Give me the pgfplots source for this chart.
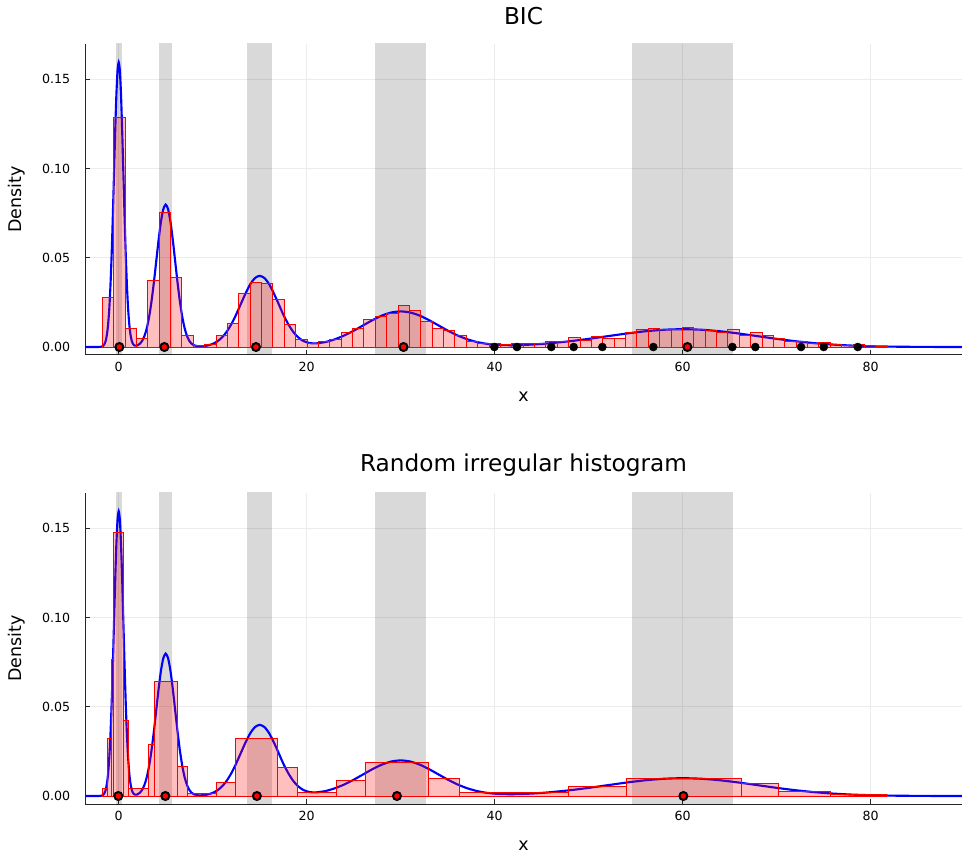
\documentclass[border=0pt]{standalone}
\usepackage{fontspec}
\setmainfont{DejaVu Sans}
\usepackage{pgfplots}
\usepackage{pgfplotstable}
\pgfplotsset{compat=1.18}

\pgfplotstableread{
x y
-3.6 0
-2.5 0.0000006
-2 0.0000535
-1.875 0.000142
-1.75 0.000349
-1.625 0.000811
-1.5 0.001771
-1.375 0.003638
-1.25 0.007006
-1.125 0.012703
-1 0.021591
-0.875 0.034517
-0.75 0.051816
-0.625 0.073056
-0.5 0.096786
-0.375 0.120451
-0.25 0.140829
-0.125 0.154665
0 0.15958
0.125 0.154665
0.25 0.140829
0.375 0.120451
0.5 0.096786
0.625 0.073056
0.75 0.051817
0.875 0.034518
1 0.021618
1.125 0.012747
1.25 0.007077
1.375 0.00375
1.5 0.001946
1.625 0.001079
1.75 0.000754
1.875 0.000746
2 0.00094
2.25 0.001825
2.5 0.003503
2.75 0.006351
3 0.010796
3.25 0.017259
3.5 0.025908
3.75 0.036528
4 0.048394
4.25 0.060226
4.5 0.070415
4.75 0.077333
5 0.07979
5.25 0.077333
5.5 0.070415
5.75 0.060226
6 0.048394
6.25 0.036528
6.5 0.025908
6.75 0.017259
7 0.01081
7.25 0.00637
7.5 0.003539
7.75 0.00187
8 0.000973
8.5 0.000378
9 0.00047
9.5 0.000909
10 0.001751
10.5 0.003175
11 0.005397
11.5 0.008628
12 0.012952
12.5 0.018262
13 0.024193
13.5 0.030109
14 0.03521
14.5 0.038661
15 0.03989
15.5 0.038661
16 0.035247
16.5 0.030109
17 0.024294
17.5 0.018262
18 0.013173
18.5 0.008948
19 0.005852
19.5 0.003812
20 0.002627
20.5 0.002098
21 0.002031
22 0.002786
23 0.004328
24 0.006477
25 0.009132
26 0.012098
27 0.015056
28 0.017606
29 0.019337
30 0.019956
31 0.019346
32 0.017625
33 0.015089
34 0.012149
35 0.009208
36 0.006588
37 0.004475
38 0.002926
39 0.001906
40 0.001314
41 0.001049
42 0.001015
43 0.001144
44 0.001394
45 0.001738
46 0.002164
48 0.003239
50 0.004566
52 0.006049
54 0.007528
56 0.008802
58 0.009667
60 0.009974
62 0.009667
64 0.008802
66 0.007528
68 0.006049
70 0.004566
72 0.003239
74 0.002157
76 0.00135
78 0.000794
80 0.000438
82 0.000227
84 0.000111
86 0.0000507
88 0.0000218
90 0.0000089
}\curvetab

\pgfplotstableread{
x y
-1.74 0.0276
-0.53 0.1285
0.68 0.0103
1.89 0.0047
3.10 0.0371
4.31 0.0754
5.52 0.0390
6.73 0.0062
7.94 0.0010
9.15 0.0017
10.36 0.0062
11.57 0.0132
12.78 0.0300
13.99 0.0360
15.20 0.0354
16.41 0.0265
17.62 0.0126
18.83 0.0043
20.04 0.0022
21.25 0.0030
22.46 0.0041
23.67 0.0080
24.88 0.0104
26.09 0.0154
27.30 0.0171
28.51 0.0190
29.72 0.0232
30.93 0.0203
32.14 0.0143
33.35 0.0102
34.56 0.0094
35.77 0.0062
36.98 0.0030
38.19 0.0020
39.40 0.0019
40.61 0.0017
41.82 0.0020
43.03 0.0019
44.24 0.0022
45.45 0.0032
46.66 0.0030
47.87 0.0052
49.08 0.0039
50.29 0.0060
51.50 0.0049
52.71 0.0050
53.92 0.0084
55.13 0.0097
56.34 0.0104
57.55 0.0100
58.76 0.0100
59.97 0.0108
61.18 0.0101
62.39 0.0093
63.60 0.0082
64.81 0.0101
66.02 0.0065
67.23 0.0082
68.44 0.0062
69.65 0.0047
70.86 0.0030
72.07 0.0032
73.28 0.0020
74.49 0.0026
75.70 0.0015
76.91 0.0010
78.12 0.0015
79.33 0.0006
80.54 0.0004
81.75 0.0004
}\histtop

\pgfplotstableread{
x y
-1.74 0.0043
-1.21 0.0324
-0.78 0.0764
-0.54 0.1476
0.53 0.0421
1.03 0.0043
3.15 0.0290
3.79 0.0644
6.24 0.0165
7.30 0.0015
10.35 0.0075
12.39 0.0324
16.91 0.0162
19.00 0.0022
23.15 0.0088
26.20 0.0187
32.98 0.0099
36.24 0.0020
47.83 0.0054
54.04 0.0097
66.20 0.0069
70.20 0.0024
75.74 0.0009
81.70 0.0009
}\histbot

\pgfplotsset{
 mystyle/.style={
  scale only axis, width=657.75pt, height=233.25pt,
  xmin=-3.585, xmax=89.71, ymin=-0.00448, ymax=0.1698,
  axis x line*=bottom, axis y line*=left,
  axis line style={-, black!85, line width=0.75pt},
  xtick={0,20,40,60,80}, ytick={0,0.05,0.1,0.15},
  tick align=inside, major tick length=3.75pt,
  tick style={black!85, line width=0.6pt},
  grid=major, major grid style={gray!15, line width=0.6pt},
  /pgf/number format/assume math mode=true,
  yticklabel style={/pgf/number format/fixed, /pgf/number format/fixed zerofill, /pgf/number format/precision=2, xshift=-7.6pt},
  ticklabel style={font=\fontsize{9.45}{11}\selectfont},
  xticklabel style={yshift=-2pt},
  xlabel={x}, ylabel={Density},
  label style={font=\fontsize{13.1}{15}\selectfont},
  xlabel style={at={(axis description cs:0.5,-0.1330)}, anchor=center, inner sep=0pt},
  ylabel style={at={(axis description cs:-0.0775,0.5)}, anchor=center},
  title style={at={(axis description cs:0.5,1.0643)}, anchor=center, font=\fontsize{17.4}{20}\selectfont},
  clip=true,
 },
 band/.style={fill=black, fill opacity=0.15, draw=none, forget plot},
 dens/.style={blue, line width=1.6pt, smooth, tension=0.4, no marks},
 hist/.style={ybar interval, fill=red, fill opacity=0.25, draw=red, line width=0.7pt},
 bdot/.style={only marks, mark=*, mark size=3pt, black, mark options={fill=black, draw=black}},
 rdot/.style={only marks, mark=*, mark size=3pt, mark options={fill=red, draw=black, line width=1.5pt}},
}

\newcommand{\bands}{%
\addplot[band] coordinates {(-0.337,-0.01) (-0.337,0.2) (0.337,0.2) (0.337,-0.01)} -- cycle;
\addplot[band] coordinates {(4.326,-0.01) (4.326,0.2) (5.674,0.2) (5.674,-0.01)} -- cycle;
\addplot[band] coordinates {(13.651,-0.01) (13.651,0.2) (16.349,0.2) (16.349,-0.01)} -- cycle;
\addplot[band] coordinates {(27.302,-0.01) (27.302,0.2) (32.698,0.2) (32.698,-0.01)} -- cycle;
\addplot[band] coordinates {(54.604,-0.01) (54.604,0.2) (65.396,0.2) (65.396,-0.01)} -- cycle;
}

\begin{document}
\begin{tikzpicture}
\useasboundingbox (0,0) rectangle (721.5pt,639.75pt);
\begin{axis}[mystyle, at={(63.75pt,373.5pt)}, anchor=south west, title={BIC}]
\bands
\addplot[dens] table {\curvetab};
\addplot[hist] table {\histtop};
\addplot[bdot] coordinates {(39.96,0) (42.37,0) (46.02,0) (48.40,0) (51.45,0) (56.87,0) (65.28,0) (67.72,0) (72.59,0) (75.0,0) (78.62,0)};
\addplot[rdot] coordinates {(0.07,0) (4.86,0) (14.6,0) (30.3,0) (60.5,0)};
\end{axis}
\begin{axis}[mystyle, at={(63.75pt,36.75pt)}, anchor=south west, title={Random irregular histogram}]
\bands
\addplot[dens] table {\curvetab};
\addplot[hist] table {\histbot};
\addplot[rdot] coordinates {(-0.04,0) (4.96,0) (14.7,0) (29.6,0) (60.07,0)};
\end{axis}
\end{tikzpicture}
\end{document}
